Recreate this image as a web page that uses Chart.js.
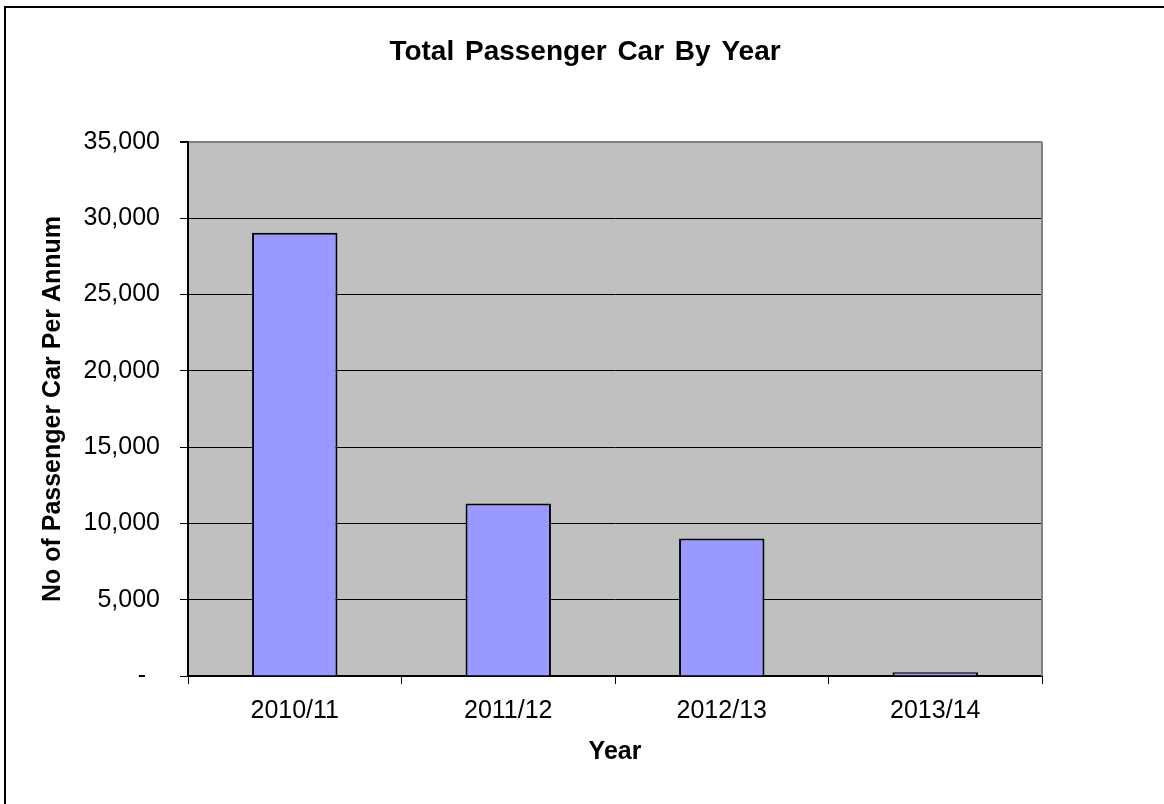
<!DOCTYPE html>
<html>
<head>
<meta charset="utf-8">
<script src="https://cdn.jsdelivr.net/npm/chart.js@4"></script>
<style>
    html, body { margin: 0; padding: 0; background: #fff; }
    #wrap { width: 1164px; height: 804px; }
</style>
</head>
<body>
<div id="wrap"><canvas id="carChart" width="1164" height="804"></canvas></div>
<script>
var chartTitle = 'Total Passenger Car By Year';
var years = ['2010/11', '2011/12', '2012/13', '2013/14'];
var passengerCars = [29050, 11300, 9020, 250];
var yTicks = [0, 5000, 10000, 15000, 20000, 25000, 30000, 35000];

var fontFamily = '"Liberation Sans", Arial, sans-serif';

// fundo, moldura e titulo
var framePlugin = {
    id: 'frame',
    beforeDraw: function(chart) {
        var ctx = chart.ctx;
        var a = chart.chartArea;
        ctx.save();
        ctx.fillStyle = '#ffffff';
        ctx.fillRect(0, 0, chart.width, chart.height);
        ctx.fillStyle = '#C0C0C0';
        ctx.fillRect(a.left, a.top, a.right - a.left, a.bottom - a.top);
        ctx.strokeStyle = '#000';
        ctx.lineWidth = 2;
        ctx.beginPath();
        ctx.moveTo(5, chart.height);
        ctx.lineTo(5, 7);
        ctx.lineTo(chart.width, 7);
        ctx.stroke();
        ctx.restore();
    },
    afterDatasetsDraw: function(chart) {
        var ctx = chart.ctx;
        var a = chart.chartArea;
        ctx.save();
        ctx.strokeStyle = '#808080';
        ctx.lineWidth = 2;
        ctx.beginPath();
        ctx.moveTo(a.right, a.top);
        ctx.lineTo(a.right, a.bottom);
        ctx.stroke();
        ctx.restore();
    },
    afterDraw: function(chart) {
        var ctx = chart.ctx;
        ctx.save();
        ctx.fillStyle = '#000';
        ctx.font = 'bold 28px ' + fontFamily;
        ctx.textAlign = 'center';
        ctx.textBaseline = 'middle';
        if ('wordSpacing' in ctx) ctx.wordSpacing = '3px';
        ctx.fillText(chartTitle, 585, 52);
        ctx.restore();
    }
};

var ctxCar = document.getElementById('carChart');
new Chart(ctxCar, {
    type: 'bar',
    data: {
        labels: years,
        datasets: [{
            label: 'Passenger Car',
            data: passengerCars,
            backgroundColor: '#9999FF',
            borderColor: '#000000',
            borderWidth: 2,
            borderSkipped: 'bottom',
            barPercentage: 0.4,
            categoryPercentage: 1.0
        }]
    },
    options: {
        responsive: false,
        animation: false,
        layout: {
            padding: { left: 30, right: 122, top: 142, bottom: 10 }
        },
        plugins: {
            legend: { display: false },
            title: { display: false },
            tooltip: { enabled: false }
        },
        scales: {
            x: {
                grid: {
                    display: true,
                    offset: true,
                    drawOnChartArea: false,
                    drawTicks: true,
                    tickLength: 8,
                    tickColor: '#000',
                    tickWidth: 1
                },
                border: { color: '#000', width: 2 },
                ticks: {
                    color: '#000',
                    padding: 12,
                    font: { family: fontFamily, size: 25 }
                },
                title: {
                    display: true,
                    text: 'Year',
                    color: '#000',
                    font: { family: fontFamily, size: 25, weight: 'bold' },
                    padding: { top: 0, bottom: 27 }
                },
                afterFit: function(scale) { scale.height = 118; }
            },
            y: {
                min: 0,
                max: 35000,
                afterBuildTicks: function(scale) {
                    scale.ticks = yTicks.map(function(v) { return { value: v }; });
                },
                grid: {
                    color: function(c) {
                        return c.tick && c.tick.value === 35000 ? '#808080' : '#000';
                    },
                    lineWidth: function(c) {
                        return c.tick && c.tick.value === 35000 ? 2 : 1;
                    },
                    tickColor: '#000',
                    tickLength: 8,
                    drawTicks: true
                },
                border: { color: '#000', width: 2 },
                ticks: {
                    color: '#000',
                    padding: 20,
                    font: { family: fontFamily, size: 25 },
                    callback: function(value) {
                        if (value === 0) return '-  ';
                        return value.toLocaleString('en-US');
                    }
                },
                title: {
                    display: true,
                    text: 'No of Passenger Car Per Annum',
                    color: '#000',
                    font: { family: fontFamily, size: 25, weight: 'bold' },
                    padding: { top: 8, bottom: 0 }
                },
                afterFit: function(scale) { scale.width = 158; }
            }
        }
    },
    plugins: [framePlugin]
});
</script>
</body>
</html>
